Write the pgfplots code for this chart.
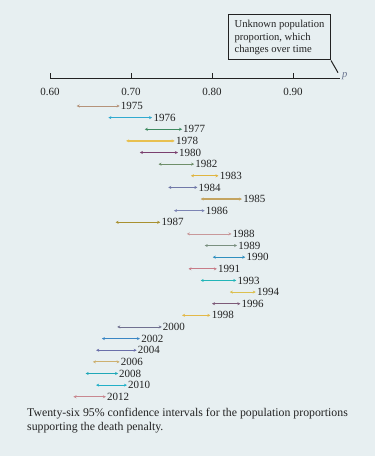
\documentclass[border=0pt]{standalone}
\usepackage{fontspec}
\setmainfont{Liberation Serif}
\usepackage{pgfplots}
\pgfplotsset{compat=1.18}
\usetikzlibrary{arrows.meta}
\definecolor{bg}{HTML}{E7EFF1}
\definecolor{txt}{HTML}{222222}
\definecolor{pcol}{HTML}{6A7490}
\definecolor{c75}{HTML}{B5937A}
\definecolor{c76}{HTML}{30AAD0}
\definecolor{c77}{HTML}{3D8A5F}
\definecolor{c78}{HTML}{E8C050}
\definecolor{c80}{HTML}{7A3F6E}
\definecolor{c82}{HTML}{6F8F6A}
\definecolor{c83}{HTML}{E0B540}
\definecolor{c84}{HTML}{7078A8}
\definecolor{c85}{HTML}{C4A460}
\definecolor{c86}{HTML}{7C84B4}
\definecolor{c87}{HTML}{A89030}
\definecolor{c88}{HTML}{C8989A}
\definecolor{c89}{HTML}{7A9080}
\definecolor{c90}{HTML}{2F8FBF}
\definecolor{c91}{HTML}{C87C88}
\definecolor{c93}{HTML}{22B5B8}
\definecolor{c94}{HTML}{DCC050}
\definecolor{c96}{HTML}{7D5A78}
\definecolor{c98}{HTML}{E3B848}
\definecolor{c00}{HTML}{707090}
\definecolor{c02}{HTML}{3A86C4}
\definecolor{c04}{HTML}{6A6FAA}
\definecolor{c06}{HTML}{CDB070}
\definecolor{c08}{HTML}{20A8B8}
\definecolor{c10}{HTML}{22B0C8}
\definecolor{c12}{HTML}{C88890}
\tikzset{ciarr/.style={{Stealth[length=3pt,width=3pt]}-{Stealth[length=3pt,width=3pt]}}}
\newcommand{\ci}[5]{\addplot[line width=0.8pt, ciarr, #5] coordinates {(#1,#4) (#2,#4)} node[pos=1,anchor=west,inner sep=0.8bp,text=txt,font=\fontsize{11bp}{12bp}\selectfont] {#3};}
\newcommand{\tk}[1]{%
  \draw[txt, line width=1pt] (axis cs:#1,-2.3216) -- (axis cs:#1,-2.84);
  \node[anchor=base, text=txt, font=\fontsize{11bp}{12bp}\selectfont, inner sep=0pt] at (axis cs:#1,-0.86) {#1};}
\begin{document}
\begin{tikzpicture}
\fill[bg] (0,0) rectangle (375bp,456bp);
\begin{axis}[
  at={(0,0)}, anchor=south west,
  width=375bp, height=456bp, scale only axis,
  hide axis, clip=false,
  xmin=0.538272, xmax=1.001235,
  ymin=-9.114, ymax=30.095, y dir=reverse,
]
% number line
\draw[txt, line width=1pt] (axis cs:0.60,-2.3216) -- (axis cs:0.9580,-2.3216);
\tk{0.60}
\tk{0.70}
\tk{0.80}
\tk{0.90}
\node[anchor=west, text=pcol, font=\fontsize{10.5bp}{12bp}\selectfont\itshape, inner sep=0pt] at (axis cs:0.9605,-2.55) {p};
% annotation box
\node[draw=txt, line width=1pt, anchor=north west, align=left, inner xsep=6bp, inner ysep=4bp, text=txt,
  minimum width=102bp, minimum height=45bp,
  font=\fontsize{10.6bp}{12.8bp}\selectfont, fill=bg] (box) at (axis cs:0.81975,-7.868) {Unknown population\\proportion, which\\changes over time};
\draw[txt, line width=1pt] (box.south east) -- (axis cs:0.9556,-2.863);
% intervals
\ci{0.633}{0.686}{1975}{0}{c75}
\ci{0.672}{0.726}{1976}{1}{c76, line width=1.5pt}
\ci{0.717}{0.763}{1977}{2}{c77}
\ci{0.694}{0.754}{1978}{3}{c78, line width=1.4pt}
\ci{0.711}{0.758}{1980}{4}{c80}
\ci{0.734}{0.778}{1982}{5}{c82}
\ci{0.774}{0.808}{1983}{6}{c83, line width=1.4pt}
\ci{0.746}{0.782}{1984}{7}{c84}
\ci{0.786}{0.837}{1985}{8}{c85, line width=1.4pt}
\ci{0.753}{0.791}{1986}{9}{c86}
\ci{0.681}{0.736}{1987}{10}{c87, line width=1.2pt}
\ci{0.769}{0.824}{1988}{11}{c88}
\ci{0.791}{0.831}{1989}{12}{c89}
\ci{0.801}{0.841}{1990}{13}{c90, line width=1.2pt}
\ci{0.771}{0.806}{1991}{14}{c91, line width=1.1pt}
\ci{0.786}{0.830}{1993}{15}{c93, line width=1.2pt}
\ci{0.822}{0.854}{1994}{16}{c94, line width=1.1pt}
\ci{0.800}{0.835}{1996}{17}{c96, line width=1.1pt}
\ci{0.763}{0.798}{1998}{18}{c98, line width=1.2pt}
\ci{0.683}{0.738}{2000}{19}{c00}
\ci{0.664}{0.711}{2002}{20}{c02, line width=1.1pt}
\ci{0.657}{0.707}{2004}{21}{c04}
\ci{0.653}{0.686}{2006}{22}{c06}
\ci{0.644}{0.684}{2008}{23}{c08}
\ci{0.657}{0.695}{2010}{24}{c10}
\ci{0.629}{0.669}{2012}{25}{c12}
% caption
\node[anchor=base west, text=txt, inner sep=0pt, font=\fontsize{11.8bp}{12bp}\selectfont] at (axis cs:0.5716,26.74) {Twenty-six 95\% confidence intervals for the population proportions};
\node[anchor=base west, text=txt, inner sep=0pt, font=\fontsize{11.8bp}{12bp}\selectfont] at (axis cs:0.5716,27.94) {supporting the death penalty.};
\end{axis}
\end{tikzpicture}
\end{document}
